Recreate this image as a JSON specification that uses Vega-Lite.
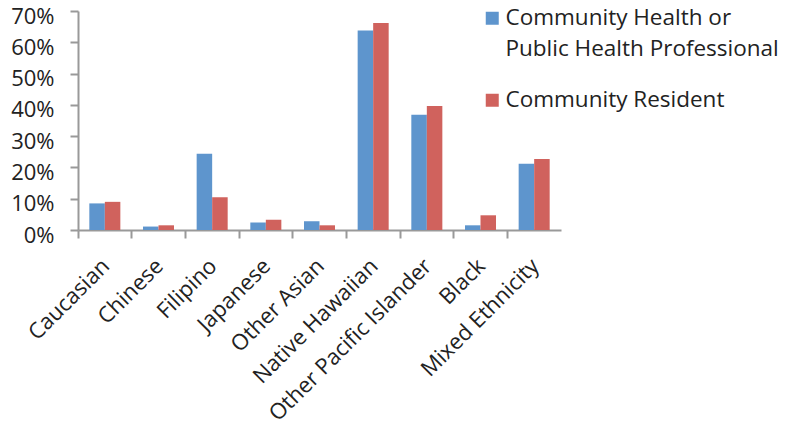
{
  "$schema": "https://vega.github.io/schema/vega-lite/v6.json",
  "width": 483,
  "height": 219,
  "autosize": {"type": "none"},
  "padding": {"left": 78, "top": 11, "right": 225, "bottom": 201},
  "background": "white",
  "config": {
    "font": "Open Sans",
    "view": {"stroke": null},
    "style": {"guide-label": {"lineHeight": 31}}
  },
  "data": {
    "values": [
      {"ethnicity": "Caucasian", "respondent": "Community Health or Public Health Professional", "share": 0.085},
      {"ethnicity": "Caucasian", "respondent": "Community Resident", "share": 0.09},
      {"ethnicity": "Chinese", "respondent": "Community Health or Public Health Professional", "share": 0.011},
      {"ethnicity": "Chinese", "respondent": "Community Resident", "share": 0.015},
      {"ethnicity": "Filipino", "respondent": "Community Health or Public Health Professional", "share": 0.244},
      {"ethnicity": "Filipino", "respondent": "Community Resident", "share": 0.105},
      {"ethnicity": "Japanese", "respondent": "Community Health or Public Health Professional", "share": 0.024},
      {"ethnicity": "Japanese", "respondent": "Community Resident", "share": 0.033},
      {"ethnicity": "Other Asian", "respondent": "Community Health or Public Health Professional", "share": 0.028},
      {"ethnicity": "Other Asian", "respondent": "Community Resident", "share": 0.015},
      {"ethnicity": "Native Hawaiian", "respondent": "Community Health or Public Health Professional", "share": 0.638},
      {"ethnicity": "Native Hawaiian", "respondent": "Community Resident", "share": 0.662},
      {"ethnicity": "Other Pacific Islander", "respondent": "Community Health or Public Health Professional", "share": 0.368},
      {"ethnicity": "Other Pacific Islander", "respondent": "Community Resident", "share": 0.396},
      {"ethnicity": "Black", "respondent": "Community Health or Public Health Professional", "share": 0.015},
      {"ethnicity": "Black", "respondent": "Community Resident", "share": 0.047},
      {"ethnicity": "Mixed Ethnicity", "respondent": "Community Health or Public Health Professional", "share": 0.212},
      {"ethnicity": "Mixed Ethnicity", "respondent": "Community Resident", "share": 0.227}
    ]
  },
  "layer": [
    {
      "mark": {"type": "bar"},
      "encoding": {
        "x": {
          "field": "ethnicity",
          "type": "nominal",
          "sort": null,
          "scale": {"paddingInner": 0, "paddingOuter": 0},
          "axis": {
            "orient": "bottom",
            "title": null,
            "ticks": false,
            "labelAngle": -45,
            "labelAlign": "right",
            "labelBaseline": "top",
            "labelFontSize": 22,
            "labelColor": "#222222",
            "labelPadding": 25,
            "labelOffset": -6,
            "labelLimit": 400,
            "domainColor": "#999999",
            "domainWidth": 2
          }
        },
        "xOffset": {
          "field": "respondent",
          "sort": null,
          "scale": {"paddingInner": 0, "paddingOuter": 0.73}
        },
        "y": {
          "field": "share",
          "type": "quantitative",
          "scale": {"domain": [0, 0.7]},
          "axis": {
            "title": null,
            "grid": false,
            "format": ".0%",
            "values": [0, 0.1, 0.2, 0.3, 0.4, 0.5, 0.6, 0.7],
            "labelFontSize": 22,
            "labelColor": "#222222",
            "labelPadding": 16,
            "labelOffset": 5,
            "tickSize": 8,
            "tickColor": "#999999",
            "tickWidth": 2,
            "domainColor": "#999999",
            "domainWidth": 2
          }
        },
        "color": {
          "field": "respondent",
          "type": "nominal",
          "sort": null,
          "scale": {
            "domain": ["Community Health or Public Health Professional", "Community Resident"],
            "range": ["#5E95CD", "#D0625D"]
          },
          "legend": {
            "title": null,
            "orient": "none",
            "legendX": 403,
            "legendY": -4,
            "symbolType": "square",
            "symbolSize": 169,
            "symbolStrokeWidth": 0,
            "labelFontSize": 22.5,
            "labelColor": "#222222",
            "labelOffset": 2,
            "labelLimit": 400,
            "rowPadding": 28,
            "labelExpr": "datum.label == 'Community Health or Public Health Professional' ? ['Community Health or', 'Public Health Professional'] : datum.label"
          }
        }
      }
    },
    {
      "mark": {"type": "tick", "opacity": 0},
      "encoding": {
        "x": {
          "field": "ethnicity",
          "type": "nominal",
          "sort": null,
          "axis": {
            "orient": "bottom",
            "title": null,
            "labels": false,
            "domain": false,
            "ticks": true,
            "bandPosition": 0,
            "tickSize": 8,
            "tickColor": "#999999",
            "tickWidth": 2
          }
        }
      }
    }
  ],
  "resolve": {"axis": {"x": "independent"}}
}
